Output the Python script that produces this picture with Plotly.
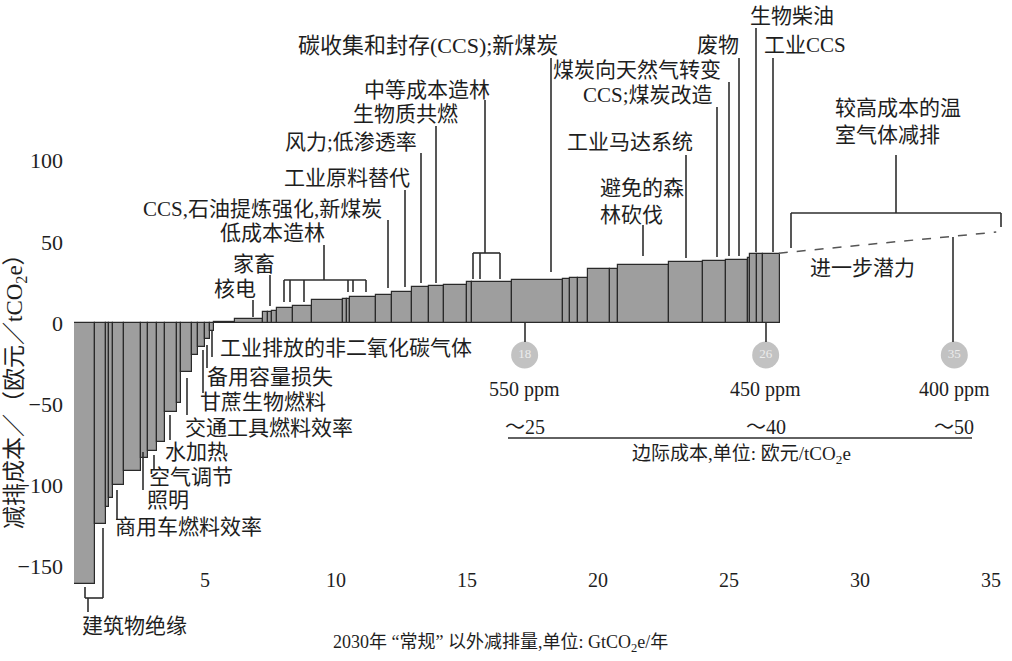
import plotly.graph_objects as go
import numpy as np

# ---------------- data ----------------
# abatement potential (GtCO2e/yr) of each lever, left to right
widths = [0.80, 0.42, 0.11, 0.15, 0.42, 0.64, 0.30, 0.34, 0.30, 0.45, 0.15, 0.42, 0.23, 0.27, 0.19, 0.15,
          0.80, 1.06, 0.19, 0.15, 0.19, 0.61, 0.76, 1.16, 0.15, 0.11, 1.02, 0.61, 0.76, 0.64, 0.57, 0.87,
          0.19, 1.55, 1.95, 0.27, 0.27, 0.38, 0.87, 0.30, 1.95, 1.29, 0.87, 0.83, 0.11, 0.23, 0.23, 0.68]
# abatement cost (EUR/tCO2e)
costs = [-161, -124, -113, -108, -100, -91, -83, -79, -73, -55, -49, -30, -20, -15, -10, -5,
         0.6, 2.5, 7, 7, 7.5, 9, 10.5, 14, 15, 15, 16, 17, 19, 22, 22.5, 23.5,
         25.5, 25.5, 26.5, 27, 27.5, 28, 33, 33.5, 36, 37.3, 38, 38.5, 40, 42.5, 42.5, 42.5]

further_x = [26.9, 35.2]          # further potential (dashed)
further_y = [43, 56]

ppm_targets = ["550 ppm", "450 ppm", "400 ppm"]
ppm_gt = [17.2, 26.4, 33.6]
ppm_circle_text = ["18", "26", "35"]
marginal_cost = ["～25", "～40", "～50"]

x_ticks = [5, 10, 15, 20, 25, 30, 35]
y_ticks = [-150, -100, -50, 0, 50, 100]

# ---------------- geometry helpers (pixel -> data) ----------------
X0_PX, XS = 74, 26.2
Y0_PX, YS = 323, 1.624
W, H = 1012, 661
PLOT_W = W - X0_PX


def dx(px):
    return (px - X0_PX) / XS


def dy(py):
    return (Y0_PX - py) / YS


FONT = "Liberation Serif, 'Noto Sans CJK SC', serif"
TXT = "#1e1e1e"
LINE = "#2e2e2e"

edges = np.concatenate([[0], np.cumsum(widths)])
centers = (edges[:-1] + edges[1:]) / 2

fig = go.Figure()
fig.add_trace(go.Bar(x=centers, y=costs, width=widths,
                     marker=dict(color="#9e9e9e", line=dict(color="#2a2a2a", width=1.2)),
                     hoverinfo="skip", showlegend=False))

fig.add_trace(go.Scatter(x=further_x, y=further_y, mode="lines",
                         line=dict(color="#555555", width=1.5, dash="dash"),
                         hoverinfo="skip", showlegend=False))

shapes = []


def vline(px, py0, py1):
    shapes.append(dict(type="line", xref="x", yref="y", x0=dx(px), x1=dx(px), y0=dy(py0), y1=dy(py1),
                       line=dict(color=LINE, width=1.6)))


def hline(py, px0, px1):
    shapes.append(dict(type="line", xref="x", yref="y", x0=dx(px0), x1=dx(px1), y0=dy(py), y1=dy(py),
                       line=dict(color=LINE, width=1.6)))


# pointers for the upper labels
vline(756, 28, 252)
vline(773, 58, 252)
vline(739, 58, 256)
vline(729, 82, 256)
vline(717, 107, 257)
vline(686, 155, 258)
vline(643, 225, 256)
vline(551, 58, 272)
# medium-cost forestation bracket
vline(485, 100, 253)
hline(253, 473, 500)
vline(473, 253, 279)
vline(480, 253, 279)
vline(500, 253, 279)
vline(436, 126, 283)
vline(421, 153, 283)
vline(405, 190, 287)
vline(388, 220, 288)
# low-cost forestation bracket
vline(324, 245, 280)
hline(280, 284, 366)
for p in (284, 290, 304):
    vline(p, 280, 302)
for p in (348, 353, 366):
    vline(p, 280, 292)
vline(270, 275, 306)
vline(253, 300, 317)
# negative-side pointers
vline(212, 330, 357)
vline(207, 345, 368)
vline(203, 350, 393)
vline(187, 378, 415)
vline(170, 415, 440)
vline(154, 455, 470)
vline(143, 452, 490)
vline(117, 490, 520)
# building insulation bracket
vline(85, 587, 598)
hline(598, 85, 103)
vline(103, 528, 598)
vline(88, 598, 612)
# higher-cost bracket
hline(213, 791, 1001)
vline(791, 213, 248)
vline(1001, 213, 227)
vline(896, 155, 213)
# ppm pointer lines
vline(525, 323, 342)
vline(766, 323, 342)
vline(953, 237, 342)
# marginal cost underline
hline(438, 508, 972)

fig.add_trace(go.Scatter(x=ppm_gt, y=[dy(355)] * 3, mode="markers+text",
                         marker=dict(size=27, color="#c2c2c2", line=dict(width=0)),
                         text=ppm_circle_text, textposition="middle center",
                         textfont=dict(color="#ececec", size=13, family=FONT),
                         hoverinfo="skip", showlegend=False))

annotations = []


def label(text, px, py, xanchor="center", size=21, angle=0, align="center"):
    annotations.append(dict(text=text, x=dx(px), y=dy(py), xref="x", yref="y",
                            xanchor=xanchor, yanchor="middle", showarrow=False, align=align,
                            textangle=angle, font=dict(family=FONT, size=size, color=TXT)))


label("生物柴油", 792, 16)
label("工业CCS", 805, 45)
label("废物", 718, 45)
label("碳收集和封存(CCS);新煤炭", 428, 45, size=22)
label("煤炭向天然气转变", 637, 70)
label("CCS;煤炭改造", 648, 95)
label("中等成本造林", 427, 90)
label("生物质共燃", 405, 114)
label("较高成本的温<br>室气体减排", 833, 121, xanchor="left", align="left")
label("工业马达系统", 630, 142)
label("风力;低渗透率", 351, 142)
label("工业原料替代", 347, 178)
label("避免的森<br>林砍伐", 598, 201, xanchor="left", align="left")
label("CCS,石油提炼强化,新煤炭", 262, 209)
label("低成本造林", 272, 233)
label("家畜", 254, 264)
label("核电", 235, 289)
label("进一步潜力", 862, 268)
label("工业排放的非二氧化碳气体", 218, 348, xanchor="left")
label("备用容量损失", 205, 377, xanchor="left")
label("甘蔗生物燃料", 198, 402, xanchor="left")
label("交通工具燃料效率", 183, 428, xanchor="left")
label("水加热", 163, 452, xanchor="left")
label("空气调节", 147, 477, xanchor="left")
label("照明", 145, 500, xanchor="left")
label("商用车燃料效率", 113, 527, xanchor="left")
label("建筑物绝缘", 80, 626, xanchor="left")
label("2030年 “常规” 以外减排量,单位: GtCO<sub>2</sub>e/年", 500, 643, size=18)
label("边际成本,单位: 欧元/tCO<sub>2</sub>e", 741, 455, size=19)

for gx, t, c in zip(ppm_gt, ppm_targets, marginal_cost):
    annotations.append(dict(text=t, x=gx, y=dy(389), xref="x", yref="y", showarrow=False,
                            font=dict(family=FONT, size=20, color=TXT)))
    annotations.append(dict(text=c, x=gx, y=dy(427), xref="x", yref="y", showarrow=False,
                            font=dict(family=FONT, size=20, color=TXT)))

annotations.append(dict(text="减排成本／（欧元／tCO<sub>2</sub>e）", x=(16 - X0_PX) / PLOT_W, y=1 - 386 / H,
                        xref="paper", yref="paper", showarrow=False, textangle=-90,
                        xanchor="center", yanchor="middle",
                        font=dict(family=FONT, size=23, color=TXT)))

fig.update_layout(
    width=W, height=H,
    margin=dict(l=X0_PX, r=0, t=0, b=0),
    paper_bgcolor="white", plot_bgcolor="white",
    shapes=shapes, annotations=annotations,
    bargap=0,
    xaxis=dict(range=[0, PLOT_W / XS], tickvals=x_ticks, showgrid=False, zeroline=False,
               showline=False, ticks="", anchor="free", position=(H - 566) / H, automargin=False,
               tickfont=dict(family=FONT, size=20, color=TXT)),
    yaxis=dict(range=[dy(H), dy(0)], tickvals=y_ticks, showgrid=False, zeroline=False,
               showline=False, ticks="", automargin=False, ticklabelstandoff=10,
               tickfont=dict(family=FONT, size=22, color=TXT)),
)

fig.write_html("out.html", config={"displayModeBar": False},
               post_script="document.body.style.margin='0px';document.body.style.overflow='hidden';")
